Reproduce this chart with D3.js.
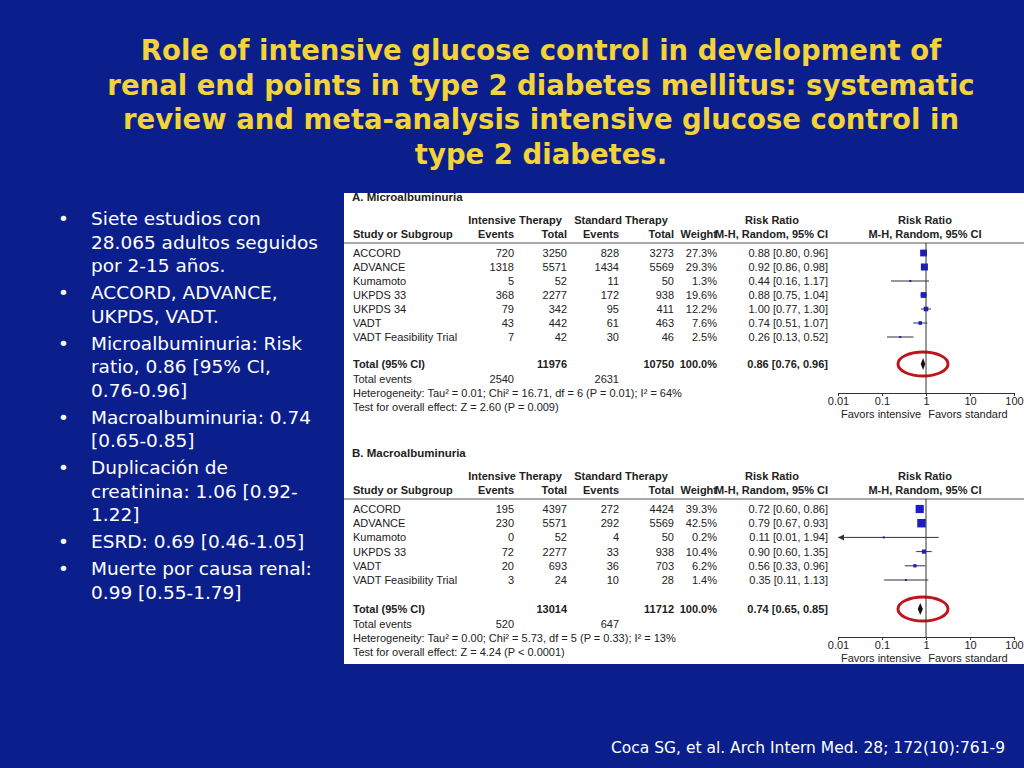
<!DOCTYPE html>
<html>
<head>
<style>
  html, body { margin: 0; background: #0b1f8c; }
  svg { display: block; }
</style>
<script src="https://cdn.jsdelivr.net/npm/d3@7"></script>
</head>
<body>
<svg id="svg" width="1024" height="768"></svg>
<script>
const titleLines = ['Role of intensive glucose control in development of',
  'renal end points in type 2 diabetes mellitus: systematic',
  'review and meta-analysis intensive glucose control in', 'type 2 diabetes.'];
const bullets = [
  ['Siete estudios con', '28.065 adultos seguidos', 'por 2-15 años.'],
  ['ACCORD, ADVANCE,', 'UKPDS, VADT.'],
  ['Microalbuminuria: Risk', 'ratio, 0.86 [95% CI,', '0.76-0.96]'],
  ['Macroalbuminuria: 0.74', '[0.65-0.85]'],
  ['Duplicación de', 'creatinina: 1.06 [0.92-', '1.22]'],
  ['ESRD: 0.69 [0.46-1.05]'],
  ['Muerte por causa renal:', '0.99 [0.55-1.79]']];

// panel A: microalbuminuria
const studiesA = ['ACCORD', 'ADVANCE', 'Kumamoto', 'UKPDS 33', 'UKPDS 34', 'VADT', 'VADT Feasibility Trial'];
const intEventsA = [720, 1318, 5, 368, 79, 43, 7];
const intTotalA = [3250, 5571, 52, 2277, 342, 442, 42];
const stdEventsA = [828, 1434, 11, 172, 95, 61, 30];
const stdTotalA = [3273, 5569, 50, 938, 411, 463, 46];
const weightA = [27.3, 29.3, 1.3, 19.6, 12.2, 7.6, 2.5];
const rrA = [0.88, 0.92, 0.44, 0.88, 1.00, 0.74, 0.26];
const loA = [0.80, 0.86, 0.16, 0.75, 0.77, 0.51, 0.13];
const hiA = [0.96, 0.98, 1.17, 1.04, 1.30, 1.07, 0.52];
const totalA = {int: 11976, std: 10750, rr: 0.86, lo: 0.76, hi: 0.96, ev1: 2540, ev2: 2631,
  het: 'Heterogeneity: Tau² = 0.01; Chi² = 16.71, df = 6 (P = 0.01); I² = 64%',
  test: 'Test for overall effect: Z = 2.60 (P = 0.009)'};

// panel B: macroalbuminuria
const studiesB = ['ACCORD', 'ADVANCE', 'Kumamoto', 'UKPDS 33', 'VADT', 'VADT Feasibility Trial'];
const intEventsB = [195, 230, 0, 72, 20, 3];
const intTotalB = [4397, 5571, 52, 2277, 693, 24];
const stdEventsB = [272, 292, 4, 33, 36, 10];
const stdTotalB = [4424, 5569, 50, 938, 703, 28];
const weightB = [39.3, 42.5, 0.2, 10.4, 6.2, 1.4];
const rrB = [0.72, 0.79, 0.11, 0.90, 0.56, 0.35];
const loB = [0.60, 0.67, 0.01, 0.60, 0.33, 0.11];
const hiB = [0.86, 0.93, 1.94, 1.35, 0.96, 1.13];
const totalB = {int: 13014, std: 11712, rr: 0.74, lo: 0.65, hi: 0.85, ev1: 520, ev2: 647,
  het: 'Heterogeneity: Tau² = 0.00; Chi² = 5.73, df = 5 (P = 0.33); I² = 13%',
  test: 'Test for overall effect: Z = 4.24 (P < 0.0001)'};

const axisTicks = [0.01, 0.1, 1, 10, 100];

const svg = d3.select('#svg');

// title
svg.append('g').selectAll('text').data(titleLines).join('text')
  .attr('x', 541).attr('y', (d, i) => 60 + i * 34.5)
  .attr('text-anchor', 'middle').attr('fill', '#f2d33a')
  .attr('font-family', 'DejaVu Sans, Verdana, sans-serif').attr('font-weight', 'bold')
  .attr('font-size', 27.5).text(d => d);

// bullets
let by = 225;
const bg = svg.append('g').attr('font-family', 'DejaVu Sans, Verdana, sans-serif')
  .attr('font-size', 18.5).attr('fill', 'white');
bullets.forEach(b => {
  bg.append('text').attr('x', 58).attr('y', by).text('•');
  b.forEach((l, j) => bg.append('text').attr('x', 91).attr('y', by + j * 23.5).text(l));
  by += b.length * 23.5 + 3.5;
});

// citation
svg.append('text').attr('x', 1005).attr('y', 753).attr('text-anchor', 'end')
  .attr('fill', 'white').attr('font-family', 'DejaVu Sans, Verdana, sans-serif')
  .attr('font-size', 15.5).text('Coca SG, et al. Arch Intern Med. 28; 172(10):761-9');

// white panel
svg.append('rect').attr('x', 344).attr('y', 193).attr('width', 680).attr('height', 471).attr('fill', 'white');

const x = d3.scaleLog().domain([0.01, 100]).range([838, 1014]);
const fmt = d3.format('.2f');

function forest(top, label, st, ie, it, se, stt, w, rr, lo, hi, tot, rowStep, totalY, axisY) {
  const g = svg.append('g').attr('font-family', 'Liberation Sans Narrow, Arial Narrow, Liberation Sans, sans-serif')
    .attr('font-size', 11).attr('fill', '#222');
  const txt = (xx, yy, t, anchor, bold) => g.append('text').attr('x', xx).attr('y', yy)
    .attr('text-anchor', anchor || 'end').attr('font-weight', bold ? 'bold' : null).text(t);
  txt(352, top + 9, label, 'start', true).attr('font-size', 11.5).attr('font-family', 'Liberation Sans, Arial, sans-serif');
  const h1 = top + 32, h2 = top + 46;
  txt(515, h1, 'Intensive Therapy', 'middle', true);
  txt(621, h1, 'Standard Therapy', 'middle', true);
  txt(772, h1, 'Risk Ratio', 'middle', true);
  txt(925, h1, 'Risk Ratio', 'middle', true);
  txt(353, h2, 'Study or Subgroup', 'start', true);
  [[514, 'Events'], [567, 'Total'], [619, 'Events'], [674, 'Total'], [717, 'Weight'], [828, 'M-H, Random, 95% CI']]
    .forEach(([xx, t]) => txt(xx, h2, t, 'end', true));
  txt(925, h2, 'M-H, Random, 95% CI', 'middle', true);
  g.append('line').attr('x1', 344).attr('x2', 1024).attr('y1', h2 + 5).attr('y2', h2 + 5).attr('stroke', '#555');
  const y0 = h2 + 19;
  st.forEach((s, i) => {
    const yy = y0 + i * rowStep;
    txt(353, yy, s, 'start');
    txt(514, yy, ie[i]); txt(567, yy, it[i]); txt(619, yy, se[i]); txt(674, yy, stt[i]);
    txt(717, yy, w[i].toFixed(1) + '%');
    txt(828, yy, `${fmt(rr[i])} [${fmt(lo[i])}, ${fmt(hi[i])}]`);
    const cy = yy - 4;
    const x1 = Math.max(x(lo[i]), 838);
    g.append('line').attr('x1', x1).attr('x2', x(hi[i])).attr('y1', cy).attr('y2', cy).attr('stroke', '#333');
    if (x(lo[i]) <= 838) g.append('path').attr('d', `M838,${cy}l6,-3v6z`).attr('fill', '#333');
    const sz = Math.max(2, Math.sqrt(w[i]) * 1.3);
    g.append('rect').attr('x', x(rr[i]) - sz / 2).attr('y', cy - sz / 2)
      .attr('width', sz).attr('height', sz).attr('fill', '#1c1cc8');
  });
  txt(353, totalY, 'Total (95% CI)', 'start', true);
  txt(567, totalY, tot.int, 'end', true); txt(674, totalY, tot.std, 'end', true);
  txt(717, totalY, '100.0%', 'end', true);
  txt(828, totalY, `${fmt(tot.rr)} [${fmt(tot.lo)}, ${fmt(tot.hi)}]`, 'end', true);
  const dy = totalY - 4;
  g.append('path').attr('d', `M${x(tot.lo)},${dy}L${x(tot.rr)},${dy - 6}L${x(tot.hi)},${dy}L${x(tot.rr)},${dy + 6}Z`).attr('fill', '#111');
  g.append('ellipse').attr('cx', x(1) - 3).attr('cy', dy).attr('rx', 25).attr('ry', 12)
    .attr('fill', 'none').attr('stroke', '#c0141c').attr('stroke-width', 3);
  txt(353, totalY + 15, 'Total events', 'start');
  txt(514, totalY + 15, tot.ev1); txt(619, totalY + 15, tot.ev2);
  txt(353, totalY + 29, tot.het, 'start');
  txt(353, totalY + 43, tot.test, 'start');
  // null line and axis
  g.append('line').attr('x1', x(1)).attr('x2', x(1)).attr('y1', h2 + 5).attr('y2', axisY).attr('stroke', '#333');
  g.append('g').attr('transform', `translate(0,${axisY})`)
    .call(d3.axisBottom(x).tickValues(axisTicks).tickFormat(d3.format('~g')).tickSize(3).tickPadding(1))
    .call(a => a.selectAll('text').attr('font-size', 11).attr('fill', '#222')
      .attr('font-family', 'Liberation Sans Narrow, Arial Narrow, sans-serif'))
    .call(a => a.selectAll('line,path').attr('stroke', '#333'));
  txt(881, axisY + 25, 'Favors intensive', 'middle');
  txt(968, axisY + 25, 'Favors standard', 'middle');
}

forest(192, 'A. Microalbuminuria', studiesA, intEventsA, intTotalA, stdEventsA, stdTotalA, weightA, rrA, loA, hiA, totalA, 14, 368, 393);
forest(448, 'B. Macroalbuminuria', studiesB, intEventsB, intTotalB, stdEventsB, stdTotalB, weightB, rrB, loB, hiB, totalB, 14.2, 613, 637);
</script>
</body>
</html>
